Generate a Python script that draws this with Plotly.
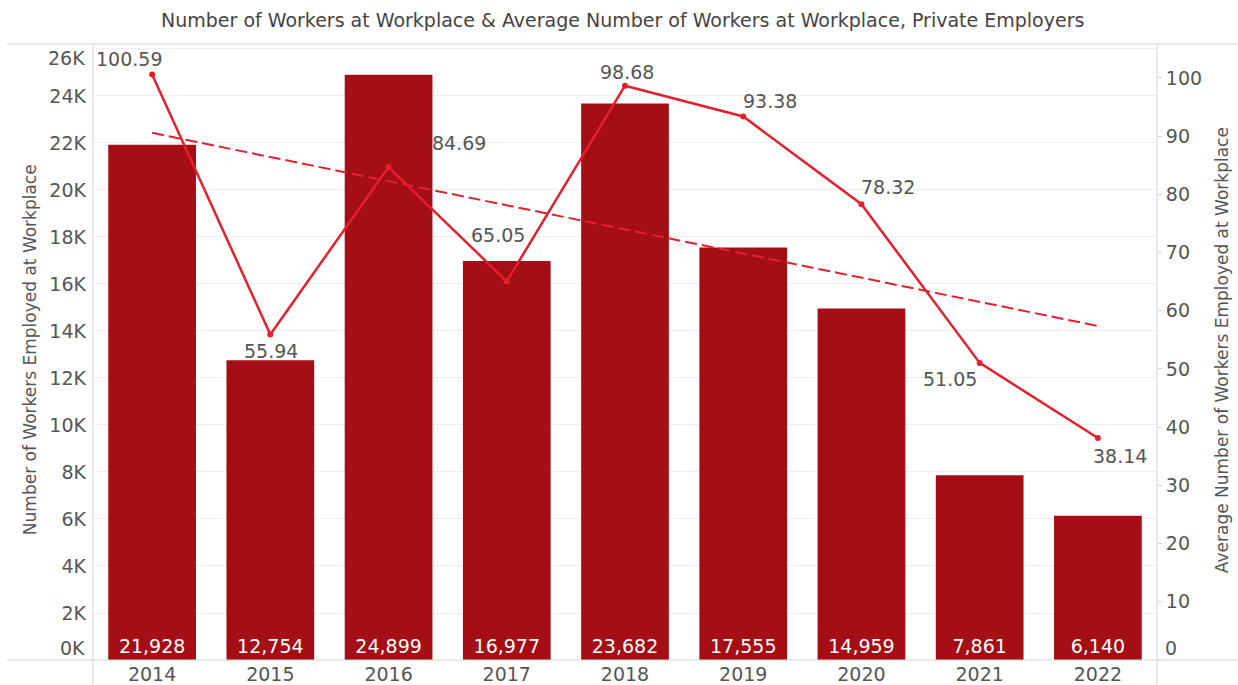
import numpy as np
import plotly.graph_objects as go

years = [2014, 2015, 2016, 2017, 2018, 2019, 2020, 2021, 2022]
workers = [21928, 12754, 24899, 16977, 23682, 17555, 14959, 7861, 6140]
avg_workers = [100.59, 55.94, 84.69, 65.05, 98.68, 93.38, 78.32, 51.05, 38.14]
left_tickvals = [0, 2000, 4000, 6000, 8000, 10000, 12000, 14000, 16000, 18000, 20000, 22000, 24000, 26000]
left_ticktext = ["0K", "2K", "4K", "6K", "8K", "10K", "12K", "14K", "16K", "18K", "20K", "22K", "24K", "26K"]
right_tickvals = [0, 10, 20, 30, 40, 50, 60, 70, 80, 90, 100]
right_ticktext = ["0", "10", "20", "30", "40", "50", "60", "70", "80", "90", "100"]

# label offsets (pixels) for the line value labels
label_dx = [-23, 1, 70, -9, 2, 27, 27, -30, 22]
label_dy = [16, -17, 24, 46, 14, 16, 17, -16, -18]

FONT = "DejaVu Sans"
GRAY = "#555555"
BAR = "#A50E15"
LINE = "#E2202E"
AXLINE = "#D4D4D4"

# linear trend of the average line
xi = np.arange(len(years))
slope, intercept = np.polyfit(xi, avg_workers, 1)
trend = [slope * xi[0] + intercept, slope * xi[-1] + intercept]

fig = go.Figure()
fig.add_trace(go.Bar(
    x=years, y=workers, width=0.742, marker_color=BAR, marker_line_width=0,
    texttemplate="%{y:,}", textposition="inside", insidetextanchor="start",
    textfont=dict(family=FONT, size=19, color="white"), textangle=0,
    yaxis="y", showlegend=False,
))
fig.add_trace(go.Scatter(
    x=[years[0], years[-1]], y=trend, mode="lines", yaxis="y2",
    line=dict(color=LINE, width=2, dash="12px,5px"), showlegend=False, hoverinfo="skip",
))
fig.add_trace(go.Scatter(
    x=years, y=avg_workers, mode="lines+markers", yaxis="y2",
    line=dict(color=LINE, width=2.5), marker=dict(color=LINE, size=6),
    showlegend=False,
))

annotations = []
for yr, v, dx, dy in zip(years, avg_workers, label_dx, label_dy):
    annotations.append(dict(
        x=yr, y=v, xref="x", yref="y2", text=f"{v:.2f}", showarrow=False,
        xshift=dx, yshift=dy, font=dict(family=FONT, size=19, color=GRAY),
        xanchor="center", yanchor="middle",
    ))
annotations.append(dict(
    x=-0.0592, y=0.503, xref="paper", yref="paper", textangle=-90,
    text="Number of Workers Employed at Workplace", showarrow=False,
    font=dict(family=FONT, size=17, color=GRAY), xanchor="center", yanchor="middle",
))
annotations.append(dict(
    x=1.0611, y=0.503, xref="paper", yref="paper", textangle=-90,
    text="Average Number of Workers Employed at Workplace", showarrow=False,
    font=dict(family=FONT, size=17, color=GRAY), xanchor="center", yanchor="middle",
))

# edge tick labels are nudged inside the pane, as in the original
left_labels_shown = [""] + left_ticktext[1:-1] + [""]
right_labels_shown = [""] + right_ticktext[1:]
annotations.append(dict(x=0, y=left_tickvals[0], xref="paper", yref="y", text=left_ticktext[0],
                        showarrow=False, xanchor="right", yanchor="middle", xshift=-6, yshift=12,
                        font=dict(family=FONT, size=19, color=GRAY)))
annotations.append(dict(x=0, y=left_tickvals[-1], xref="paper", yref="y", text=left_ticktext[-1],
                        showarrow=False, xanchor="right", yanchor="middle", xshift=-6, yshift=-9,
                        font=dict(family=FONT, size=19, color=GRAY)))
annotations.append(dict(x=1, y=right_tickvals[0], xref="paper", yref="y2", text=right_ticktext[0],
                        showarrow=False, xanchor="left", yanchor="middle", xshift=6, yshift=12,
                        font=dict(family=FONT, size=19, color=GRAY)))

H_PLOT = 616.0
shapes = [
    dict(type="line", xref="paper", yref="paper", x0=-0.0808, x1=1.0761, y0=1, y1=1,
         line=dict(color=AXLINE, width=1)),
    dict(type="line", xref="paper", yref="paper", x0=-0.0808, x1=1.0761, y0=0, y1=0,
         line=dict(color=AXLINE, width=1)),
    dict(type="line", xref="paper", yref="paper", x0=0, x1=0, y0=1, y1=-25 / H_PLOT,
         line=dict(color=AXLINE, width=1)),
    dict(type="line", xref="paper", yref="paper", x0=1, x1=1, y0=1, y1=-25 / H_PLOT,
         line=dict(color=AXLINE, width=1)),
]

fig.update_layout(
    width=1238, height=685,
    margin=dict(l=93, r=81, t=44, b=25, autoexpand=False),
    paper_bgcolor="white", plot_bgcolor="white",
    title=dict(text="Number of Workers at Workplace & Average Number of Workers at Workplace, Private Employers",
               x=0.503, xanchor="center", y=0.971, yanchor="middle",
               font=dict(family=FONT, size=19, color="#444444")),
    xaxis=dict(range=[years[0] - 0.5, years[-1] + 0.5], tickvals=years, automargin=False,
               ticktext=[str(y) for y in years], showgrid=False, showline=False, zeroline=False,
               tickfont=dict(family=FONT, size=19, color=GRAY), ticks="", ticklabelstandoff=1),
    yaxis=dict(range=[0, 26210], tickvals=left_tickvals, ticktext=left_labels_shown, automargin=False,
               showgrid=True, gridcolor="#EFEFEF", gridwidth=1, zeroline=False, showline=False,
               tickfont=dict(family=FONT, size=19, color=GRAY), ticks="", ticklabelstandoff=6),
    yaxis2=dict(range=[0, 105.84], tickvals=right_tickvals, ticktext=right_labels_shown,
                overlaying="y", side="right",
                automargin=False, showgrid=False, zeroline=False, showline=False,
                ticks="outside", ticklen=4, tickcolor=AXLINE,
                tickfont=dict(family=FONT, size=19, color=GRAY)),
    annotations=annotations, shapes=shapes,
    font=dict(family=FONT, color=GRAY),
)

fig.write_html("out.html", config={"displayModeBar": False},
               post_script="document.body.style.margin='0';")
